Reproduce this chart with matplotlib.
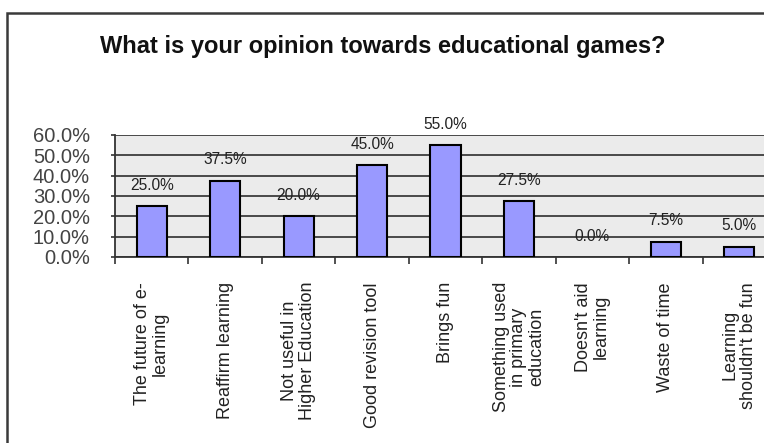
import matplotlib.pyplot as plt
from matplotlib.patches import Rectangle
from matplotlib.ticker import FixedLocator, PercentFormatter

plt.rcParams['font.family'] = ['Liberation Sans', 'DejaVu Sans']

categories = [
    "The future of e-\nlearning",
    "Reaffirm learning",
    "Not useful in\nHigher Education",
    "Good revision tool",
    "Brings fun",
    "Something used\nin primary\neducation",
    "Doesn't aid\nlearning",
    "Waste of time",
    "Learning\nshouldn't be fun",
]
shares = [25.0, 37.5, 20.0, 45.0, 55.0, 27.5, 0.0, 7.5, 5.0]
y_ticks = [0, 10, 20, 30, 40, 50, 60]

W, H = 764, 443
fig = plt.figure(figsize=(W / 100, H / 100), dpi=100)
fig.patch.set_facecolor('white')

# outer chart frame, runs off the right and bottom edges
fig.patches.append(Rectangle((7 / W, -0.1), 1.2, 1 - 13 / H + 0.1,
                             transform=fig.transFigure, fill=False,
                             edgecolor='#3a3a3a', linewidth=1.8))

fig.text(383 / W, 1 - 47 / H, "What is your opinion towards educational games?",
         ha='center', va='center', fontsize=17, fontweight='bold', color='#111111')

# plot area spans past the right edge
ax = fig.add_axes([115 / W, (H - 257) / H, 661 / W, 122 / H])
ax.set_facecolor('#ebebeb')

x = list(range(len(categories)))
bars = ax.bar(x, shares, width=0.41, color='#9999ff', edgecolor='black',
              linewidth=1.5, zorder=3)
for b, v in zip(bars, shares):
    if v == 0:
        b.set_linewidth(0)

for xi, v in zip(x, shares):
    ax.annotate(f"{v:.1f}%", (xi, v), xytext=(0, 15), textcoords='offset points',
                ha='center', va='center', fontsize=11.2, color='#222222')

ax.set_xlim(-0.5, len(categories) - 0.5)
ax.set_ylim(0, 60)
ax.yaxis.set_major_locator(FixedLocator(y_ticks))
ax.yaxis.set_major_formatter(PercentFormatter(decimals=1))
ax.grid(axis='y', color='#3c3c3c', linewidth=1.3, zorder=1)
ax.set_axisbelow(True)

ax.set_xticks(x)
ax.set_xticklabels(categories, rotation=90, fontsize=13, color='#222222',
                   linespacing=1.05, multialignment='center', va='top')
ax.tick_params(axis='x', which='major', length=0, pad=18)
ax.set_xticks([i - 0.5 for i in range(len(categories) + 1)], minor=True)
ax.tick_params(axis='x', which='minor', length=5, width=1.2, color='#333333',
               direction='out')
ax.tick_params(axis='y', length=3, width=1.2, color='#333333', pad=15,
               labelsize=14.5, labelcolor='#444444')

for side in ('top', 'right'):
    ax.spines[side].set_visible(False)
for side in ('left', 'bottom'):
    ax.spines[side].set_color('#333333')
    ax.spines[side].set_linewidth(1.3)

fig.savefig('out.png', dpi=100)
